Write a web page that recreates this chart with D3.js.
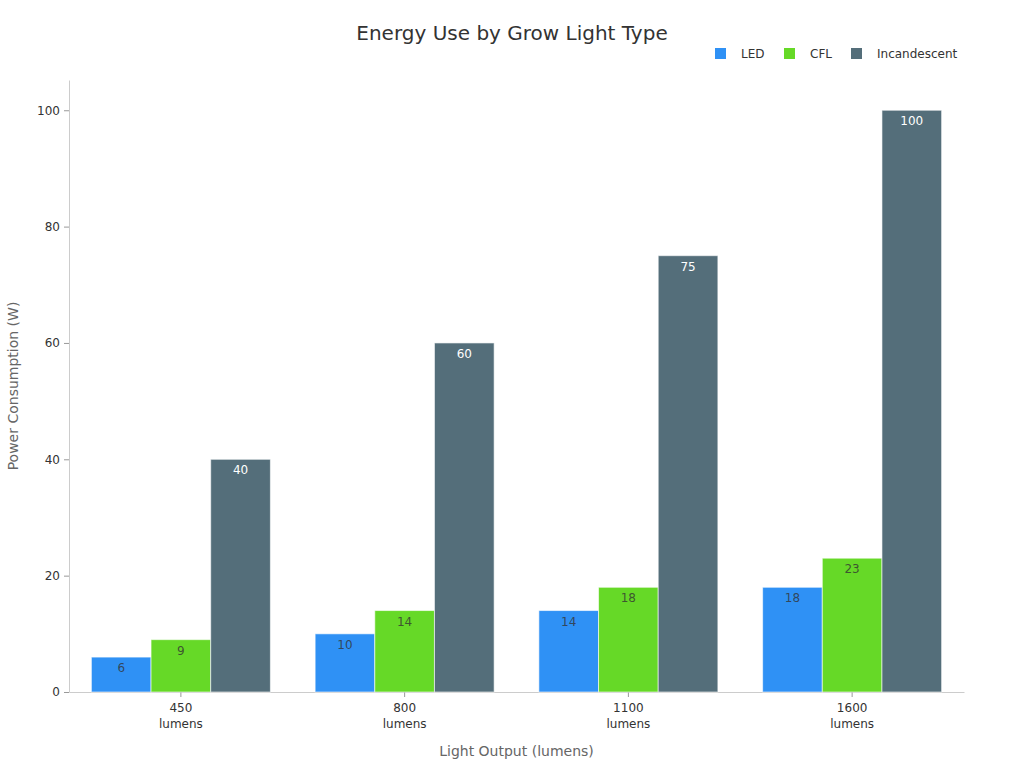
<!DOCTYPE html>
<html>
<head>
<meta charset="utf-8">
<script src="https://cdn.jsdelivr.net/npm/d3@7"></script>
<style>
  body { margin: 0; background: #fff; }
  svg { font-family: "DejaVu Sans", sans-serif; }
</style>
</head>
<body>
<div id="chart"></div>
<script>
const categories = ["450", "800", "1100", "1600"];
const seriesNames = ["LED", "CFL", "Incandescent"];
const ledValues = [6, 10, 14, 18];
const cflValues = [9, 14, 18, 23];
const incandescentValues = [40, 60, 75, 100];
const yTicks = [0, 20, 40, 60, 80, 100];

const colors = ["#2f91f5", "#66d927", "#546e7a"];
const labelColors = ["#333", "#333", "#fff"];

const w = 1024;
const h = 768;
const m = { top: 80, right: 60, bottom: 76, left: 69 };

const rows = categories.map((c, i) => ({
  cat: c,
  values: [ledValues[i], cflValues[i], incandescentValues[i]]
}));

const svg = d3
  .select("#chart")
  .append("svg")
  .attr("width", w)
  .attr("height", h);

const x0 = d3
  .scaleBand()
  .domain(categories)
  .range([m.left, w - m.right])
  .paddingInner(0)
  .paddingOuter(0);

const x1 = d3
  .scaleBand()
  .domain(seriesNames)
  .range([x0.bandwidth() * 0.1, x0.bandwidth() * 0.9]);

const y = d3
  .scaleLinear()
  .domain([0, 105.2])
  .range([h - m.bottom, m.top]);

// title
svg
  .append("text")
  .text("Energy Use by Grow Light Type")
  .attr("x", 512)
  .attr("y", 40)
  .attr("text-anchor", "middle")
  .attr("font-size", 20)
  .attr("fill", "#333");

// legend
const legend = svg
  .append("g")
  .selectAll("g")
  .data(seriesNames)
  .enter()
  .append("g")
  .attr("transform", (d, i) => `translate(${[715, 784, 851][i]}, 48)`);

legend
  .append("rect")
  .attr("width", 11)
  .attr("height", 11)
  .attr("fill", (d, i) => colors[i]);

legend
  .append("text")
  .attr("x", 26)
  .attr("y", 10)
  .attr("font-size", 12)
  .attr("fill", "#333")
  .text((d) => d);

// y axis
const yAxis = svg
  .append("g")
  .attr("transform", `translate(${m.left},0)`)
  .call(d3.axisLeft(y).tickValues(yTicks).tickSize(5).tickSizeOuter(0).tickPadding(4));
yAxis.select(".domain").attr("stroke", "#ccc");
yAxis.selectAll(".tick line").attr("stroke", "#999");
yAxis.selectAll(".tick text").attr("font-size", 12).attr("fill", "#333").attr("font-family", "DejaVu Sans");

// x axis
const xAxis = svg
  .append("g")
  .attr("transform", `translate(0,${h - m.bottom})`)
  .call(d3.axisBottom(x0).tickSize(5).tickSizeOuter(0).tickPadding(6));
xAxis.select(".domain").attr("stroke", "#ccc");
xAxis.selectAll(".tick line").attr("stroke", "#999");
xAxis
  .selectAll(".tick text")
  .attr("font-size", 12)
  .attr("fill", "#333")
  .attr("font-family", "DejaVu Sans")
  .text(null)
  .call((t) => {
    t.append("tspan").attr("x", 0).attr("dy", "0.71em").text((d) => d);
    t.append("tspan").attr("x", 0).attr("dy", "1.35em").text("lumens");
  });

// axis titles
svg
  .append("text")
  .text("Power Consumption (W)")
  .attr("transform", `translate(18, ${(m.top + h - m.bottom) / 2}) rotate(-90)`)
  .attr("text-anchor", "middle")
  .attr("font-size", 14)
  .attr("fill", "#666");

svg
  .append("text")
  .text("Light Output (lumens)")
  .attr("x", (m.left + w - m.right) / 2)
  .attr("y", 756)
  .attr("text-anchor", "middle")
  .attr("font-size", 14)
  .attr("fill", "#666");

// bars
const group = svg
  .append("g")
  .selectAll("g")
  .data(rows)
  .enter()
  .append("g")
  .attr("transform", (d) => `translate(${x0(d.cat)},0)`);

const bars = group
  .selectAll("g")
  .data((d) => d.values.map((v, i) => ({ key: seriesNames[i], value: v, i })))
  .enter()
  .append("g");

bars
  .append("rect")
  .attr("x", (d) => x1(d.key))
  .attr("y", (d) => y(d.value))
  .attr("width", x1.bandwidth())
  .attr("height", (d) => y(0) - y(d.value))
  .attr("fill", (d) => colors[d.i])
  .attr("stroke", "#fff")
  .attr("stroke-opacity", 0.6)
  .attr("stroke-width", 1);

bars
  .append("text")
  .attr("x", (d) => x1(d.key) + x1.bandwidth() / 2)
  .attr("y", (d) => y(d.value) + 15)
  .attr("text-anchor", "middle")
  .attr("font-size", 12)
  .attr("fill", (d) => labelColors[d.i])
  .attr("fill-opacity", (d) => (d.i === 2 ? 1 : 0.8))
  .text((d) => d.value);
</script>
</body>
</html>
